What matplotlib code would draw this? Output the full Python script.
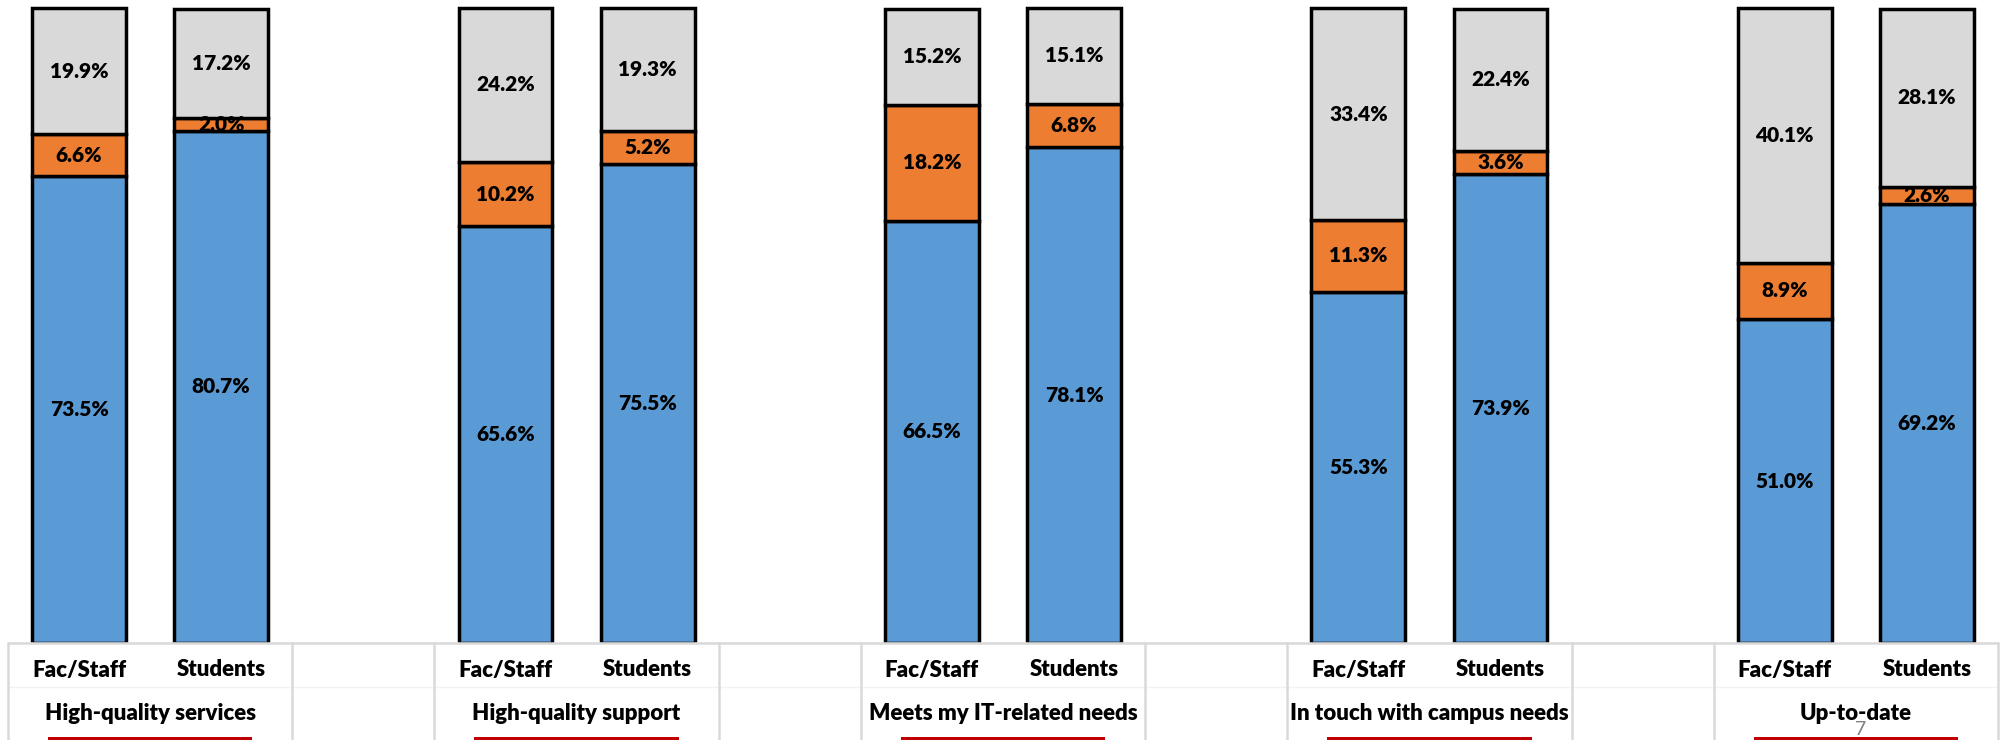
import numpy as np
import matplotlib
matplotlib.use("Agg")
import matplotlib.pyplot as plt

# survey results, percent of respondents
groups = ["High-quality services", "High-quality support", "Meets my IT-related needs",
          "In touch with campus needs", "Up-to-date"]
audiences = ["Fac/Staff", "Students"]
fac_agree = [73.5, 65.6, 66.5, 55.3, 51.0]
fac_neutral = [6.6, 10.2, 18.2, 11.3, 8.9]
fac_disagree = [19.9, 24.2, 15.2, 33.4, 40.1]
stu_agree = [80.7, 75.5, 78.1, 73.9, 69.2]
stu_neutral = [2.0, 5.2, 6.8, 3.6, 2.6]
stu_disagree = [17.2, 19.3, 15.1, 22.4, 28.1]
page_number = "7"

plt.rcParams['font.family'] = ['Lato', 'DejaVu Sans']

W, H = 2001, 740
fig = plt.figure(figsize=(W / 100, H / 100), dpi=100)
ax = fig.add_axes([0, 0, 1, 1])

# pixel layout: 14 category slots (2 bars per group + 1 empty slot between groups)
left_px, right_px = 8, 1998
top_px, base_px = 8, 643
slot = (right_px - left_px) / 14
unit = (base_px - top_px) / 100.0
ax.set_xlim(-0.5 - left_px / slot, 13.5 + (W - right_px) / slot)
ax.set_ylim(-(H - base_px) / unit, 100 + top_px / unit)
ax.axis("off")


def py(px):
    # y pixel from the top -> data value
    return (base_px - px) / unit


blue, orange, grey = "#5B9BD5", "#ED7D31", "#D9D9D9"
width = 0.66
weight = "heavy"

pos_fac = np.arange(len(groups)) * 3
pos_stu = pos_fac + 1
for pos, agree, neutral, disagree in [(pos_fac, fac_agree, fac_neutral, fac_disagree),
                                      (pos_stu, stu_agree, stu_neutral, stu_disagree)]:
    agree = np.array(agree)
    neutral = np.array(neutral)
    disagree = np.array(disagree)
    b1 = ax.bar(pos, agree, width, color=blue, edgecolor="black", linewidth=2.5, zorder=2)
    b2 = ax.bar(pos, neutral, width, bottom=agree, color=orange, edgecolor="black",
                linewidth=2.5, zorder=2)
    b3 = ax.bar(pos, disagree, width, bottom=agree + neutral, color=grey, edgecolor="black",
                linewidth=2.5, zorder=2)
    for bars in (b1, b2, b3):
        ax.bar_label(bars, labels=[f"{v:.1f}%" for v in bars.datavalues],
                     label_type="center", fontsize=15, fontweight=weight, zorder=7)

# category table under the bars
ax.axhspan(ax.get_ylim()[0], 0, color="white", zorder=3)
lc = "#D9D9D9"
ax.plot([-0.5, 13.5], [0, 0], color=lc, lw=1.8, zorder=5, solid_capstyle="butt")
ax.plot([-0.5, 13.5], [py(687), py(687)], color="#F2F2F2", lw=1.0, zorder=5)
edges = sorted(set(np.concatenate([pos_fac - 0.5, pos_stu + 0.5, pos_stu + 1.5])))
edges = [e for e in edges if e <= 13.5]
for e in edges:
    ax.plot([e, e], [0, ax.get_ylim()[0]], color=lc, lw=1.8, zorder=5)

for i, g in enumerate(groups):
    ax.text(pos_fac[i], py(670), audiences[0], ha="center", va="center",
            fontsize=16, fontweight=weight, zorder=7)
    ax.text(pos_stu[i], py(670), audiences[1], ha="center", va="center",
            fontsize=16, fontweight=weight, zorder=7)
    mid = (pos_fac[i] + pos_stu[i]) / 2
    ax.text(mid, py(714), g, ha="center", va="center",
            fontsize=16, fontweight=weight, zorder=7)
    ax.add_patch(plt.Rectangle((mid - 0.72, ax.get_ylim()[0]), 1.44, py(737) - ax.get_ylim()[0],
                               color="#C00000", zorder=6, lw=0))

ax.text(pos_fac[-1] + 0.5 + 5 / slot, py(721), page_number, ha="center", va="top",
        fontsize=14, color="#7F7F7F", zorder=8)

fig.savefig("out.png", dpi=100)
